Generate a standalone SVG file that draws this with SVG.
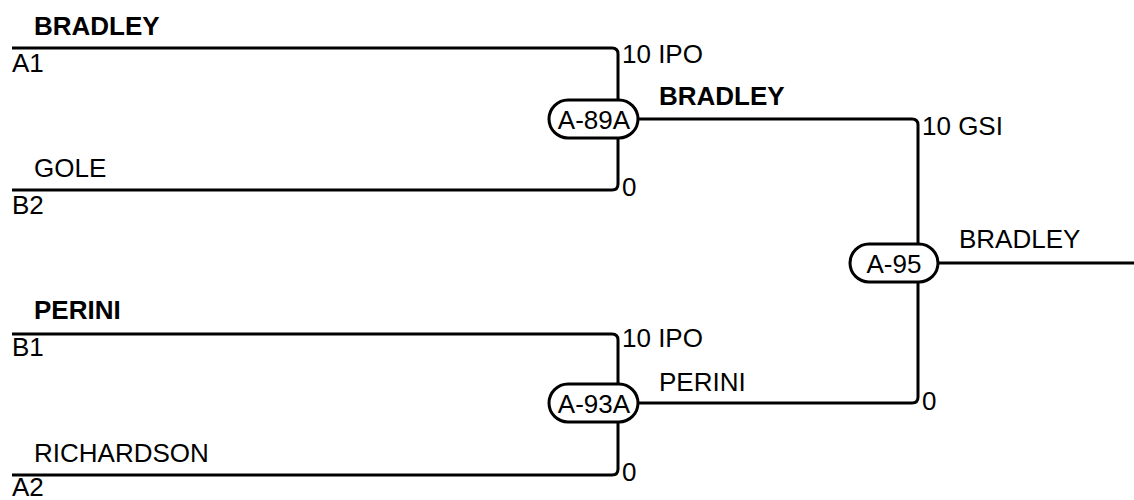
<svg xmlns="http://www.w3.org/2000/svg" width="1134" height="500" viewBox="0 0 1134 500">
<style>
text{font-family:"Liberation Sans",Arial,sans-serif;font-size:26px;fill:#000}
.b{font-weight:bold}
.m{text-anchor:middle}
.ln{fill:none;stroke:#000;stroke-width:3}
.pill{fill:#fff;stroke:#000;stroke-width:3}
</style>
<rect width="1134" height="500" fill="#fff"/>
<g id="connectors">
<path class="ln" d="M12 48 H612 Q618 48 618 54 V119"/>
<path class="ln" d="M12 190 H612 Q618 190 618 184 V119"/>
<path class="ln" d="M638 119 H912 Q918 119 918 125 V263"/>
<path class="ln" d="M638 403 H912 Q918 403 918 397 V263"/>
<path class="ln" d="M12 334 H612 Q618 334 618 340 V403"/>
<path class="ln" d="M12 475 H612 Q618 475 618 469 V403"/>
<path class="ln" d="M938 263 H1134"/>
</g>
<g id="labels">
<text x="34" y="35" class="b">BRADLEY</text>
<text x="12" y="72">A1</text>
<text x="34" y="177">GOLE</text>
<text x="12" y="214">B2</text>
<text x="34" y="319" class="b">PERINI</text>
<text x="12" y="356">B1</text>
<text x="34" y="462">RICHARDSON</text>
<text x="12" y="496">A2</text>
<text x="622" y="63">10 IPO</text>
<text x="622" y="196">0</text>
<text x="659" y="105" class="b">BRADLEY</text>
<text x="622" y="347">10 IPO</text>
<text x="622" y="481">0</text>
<text x="659" y="391">PERINI</text>
<text x="922" y="135">10 GSI</text>
<text x="922" y="410">0</text>
<text x="959" y="248">BRADLEY</text>
</g>
<g id="A-89A">
<rect class="pill" x="549" y="100" width="89" height="38" rx="19"/>
<text x="594" y="128.5" class="m">A-89A</text>
</g>
<g id="A-93A">
<rect class="pill" x="549" y="384" width="89" height="38" rx="19"/>
<text x="594" y="412.5" class="m">A-93A</text>
</g>
<g id="A-95">
<rect class="pill" x="850" y="244" width="88" height="38" rx="19"/>
<text x="894" y="272.5" class="m">A-95</text>
</g>
</svg>
